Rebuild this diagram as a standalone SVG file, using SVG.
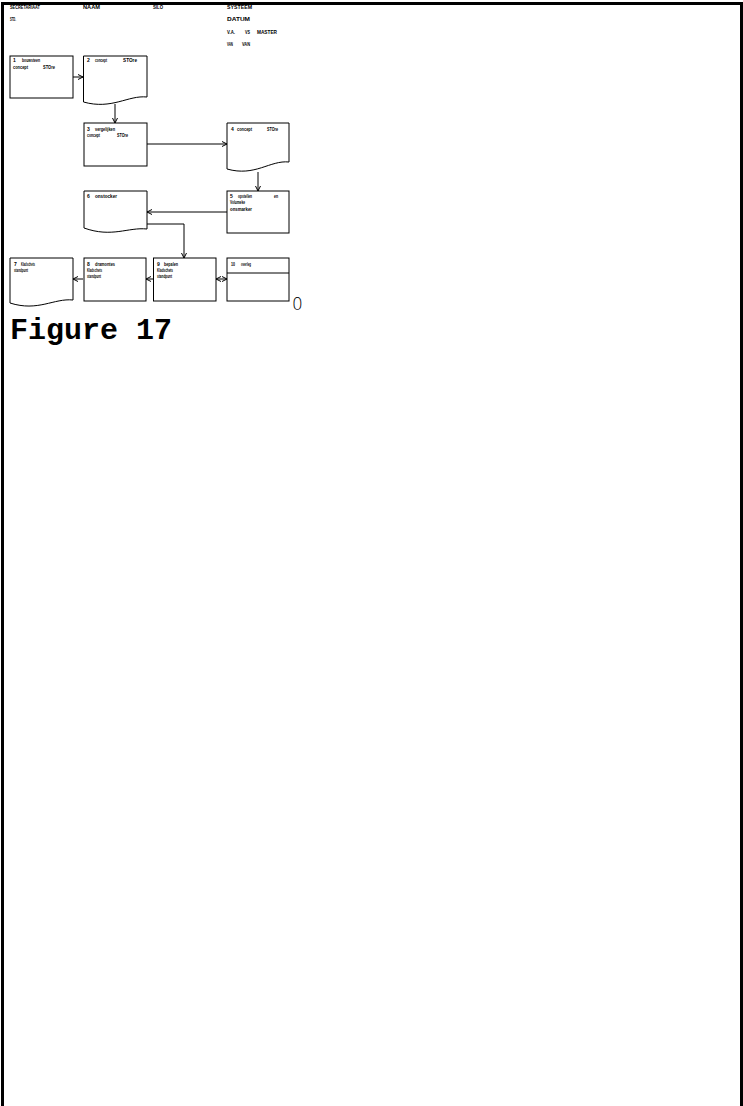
<svg xmlns="http://www.w3.org/2000/svg" width="743" height="1106" viewBox="0 0 743 1106">
<style>
.t{font-family:"Liberation Sans",Arial,sans-serif;font-weight:bold;font-size:5px;fill:#000}
.n{fill:#fff;stroke:#000;stroke-width:1}
.c{fill:none;stroke:#000;stroke-width:1}
.f{stroke:#000;stroke-width:3;fill:none}
</style>
<defs>
<marker id="ah" markerWidth="6" markerHeight="6" refX="5" refY="3" orient="auto" markerUnits="userSpaceOnUse">
<path d="M0,0.5 L5,3 L0,5.5" fill="none" stroke="#000" stroke-width="1"/>
</marker>
<marker id="as" markerWidth="6" markerHeight="6" refX="1" refY="3" orient="auto" markerUnits="userSpaceOnUse">
<path d="M6,0.5 L1,3 L6,5.5" fill="none" stroke="#000" stroke-width="1"/>
</marker>
</defs>
<rect width="743" height="1106" fill="#fff"/>
<g id="frame">
<line class="f" x1="2.5" y1="2" x2="2.5" y2="1106"/>
<line class="f" x1="1" y1="3.5" x2="743" y2="3.5"/>
<line class="f" x1="741.5" y1="2" x2="741.5" y2="1106"/>
</g>
<g id="header">
<text class="t" x="10" y="9" textLength="30" lengthAdjust="spacingAndGlyphs">SECRETARIAAT</text>
<text class="t" x="83" y="9" textLength="17" lengthAdjust="spacingAndGlyphs">NAAM</text>
<text class="t" x="153" y="9" textLength="10" lengthAdjust="spacingAndGlyphs">SILO</text>
<text class="t" x="227" y="9" textLength="25" lengthAdjust="spacingAndGlyphs">SYSTEEM</text>
<text class="t" x="10" y="21" textLength="6" lengthAdjust="spacingAndGlyphs">STD.</text>
<text class="t" x="227" y="21" textLength="23" lengthAdjust="spacingAndGlyphs">DATUM</text>
<text class="t" x="227" y="34" textLength="8" lengthAdjust="spacingAndGlyphs">V.A.</text>
<text class="t" x="245" y="34" textLength="5" lengthAdjust="spacingAndGlyphs">VS</text>
<text class="t" x="257" y="34" textLength="20" lengthAdjust="spacingAndGlyphs">MASTER</text>
<text class="t" x="227" y="46" textLength="6" lengthAdjust="spacingAndGlyphs">VAN</text>
<text class="t" x="242" y="46" textLength="8" lengthAdjust="spacingAndGlyphs">VAN</text>
</g>
<g id="connectors">
<line class="c" x1="73" y1="77" x2="83" y2="77" marker-end="url(#ah)"/>
<line class="c" x1="115" y1="104" x2="115" y2="123" marker-end="url(#ah)"/>
<line class="c" x1="147" y1="144" x2="227" y2="144" marker-end="url(#ah)"/>
<line class="c" x1="258" y1="172" x2="258" y2="191" marker-end="url(#ah)"/>
<line class="c" x1="227" y1="212" x2="147" y2="212" marker-end="url(#ah)"/>
<polyline class="c" points="147,224 184,224 184,258" marker-end="url(#ah)"/>
<line class="c" x1="83" y1="279" x2="73" y2="279" marker-end="url(#ah)"/>
<line class="c" x1="153" y1="279" x2="146" y2="279" marker-end="url(#ah)"/>
<line class="c" x1="216" y1="279" x2="227" y2="279" marker-start="url(#as)" marker-end="url(#ah)"/>
</g>
<g id="n1">
<rect class="n" x="10" y="56" width="63" height="42"/>
<text class="t" x="13" y="62">1</text>
<text class="t" x="22" y="62" textLength="18" lengthAdjust="spacingAndGlyphs">bouwsteen</text>
<text class="t" x="13" y="69" textLength="15" lengthAdjust="spacingAndGlyphs">concept</text>
<text class="t" x="43" y="69" textLength="12" lengthAdjust="spacingAndGlyphs">STOre</text>
</g>
<g id="n2">
<path class="n" d="M83.5,56 H147 V97 C128,95 112,110 83.5,102 Z"/>
<text class="t" x="87" y="62">2</text>
<text class="t" x="95" y="62" textLength="12" lengthAdjust="spacingAndGlyphs">concept</text>
<text class="t" x="123" y="62" textLength="14" lengthAdjust="spacingAndGlyphs">STOre</text>
</g>
<g id="n3">
<rect class="n" x="84" y="123" width="63" height="43"/>
<text class="t" x="87" y="131">3</text>
<text class="t" x="95" y="131" textLength="20" lengthAdjust="spacingAndGlyphs">vergelijken</text>
<text class="t" x="87" y="137" textLength="13" lengthAdjust="spacingAndGlyphs">concept</text>
<text class="t" x="117" y="137" textLength="11" lengthAdjust="spacingAndGlyphs">STOre</text>
</g>
<g id="n4">
<path class="n" d="M227,123 H289 V162 C270,160 255,177 227,169 Z"/>
<text class="t" x="231" y="131">4</text>
<text class="t" x="237" y="131" textLength="15" lengthAdjust="spacingAndGlyphs">concept</text>
<text class="t" x="267" y="131" textLength="11" lengthAdjust="spacingAndGlyphs">STOre</text>
</g>
<g id="n5">
<rect class="n" x="227" y="191" width="62" height="42"/>
<text class="t" x="230" y="198">5</text>
<text class="t" x="238" y="198" textLength="14" lengthAdjust="spacingAndGlyphs">opstellen</text>
<text class="t" x="274" y="198" textLength="4" lengthAdjust="spacingAndGlyphs">en</text>
<text class="t" x="230" y="204" textLength="15" lengthAdjust="spacingAndGlyphs">Volumeke</text>
<text class="t" x="230" y="211" textLength="22" lengthAdjust="spacingAndGlyphs">onsmarker</text>
</g>
<g id="n6">
<path class="n" d="M84,191 H147 V229 C128,227 112,238 84,228 Z"/>
<text class="t" x="87" y="198">6</text>
<text class="t" x="95" y="198" textLength="22" lengthAdjust="spacingAndGlyphs">onstocker</text>
</g>
<g id="n7">
<path class="n" d="M10,258 H73 V300 C54,298 38,312 10,303 Z"/>
<text class="t" x="14" y="266">7</text>
<text class="t" x="21" y="266" textLength="14" lengthAdjust="spacingAndGlyphs">Kladschets</text>
<text class="t" x="14" y="272" textLength="14" lengthAdjust="spacingAndGlyphs">standpunt</text>
</g>
<g id="n8">
<rect class="n" x="84" y="258" width="62" height="43"/>
<text class="t" x="87" y="266">8</text>
<text class="t" x="95" y="266" textLength="20" lengthAdjust="spacingAndGlyphs">dramontes</text>
<text class="t" x="87" y="272" textLength="15" lengthAdjust="spacingAndGlyphs">Kladschets</text>
<text class="t" x="87" y="278" textLength="14" lengthAdjust="spacingAndGlyphs">standpunt</text>
</g>
<g id="n9">
<rect class="n" x="153.5" y="258" width="62.5" height="43"/>
<text class="t" x="157" y="266">9</text>
<text class="t" x="164" y="266" textLength="14" lengthAdjust="spacingAndGlyphs">bepalen</text>
<text class="t" x="157" y="272" textLength="16" lengthAdjust="spacingAndGlyphs">Kladschets</text>
<text class="t" x="157" y="278" textLength="15" lengthAdjust="spacingAndGlyphs">standpunt</text>
</g>
<g id="n10">
<rect class="n" x="227" y="258" width="62" height="43"/>
<line class="c" x1="227" y1="273" x2="289" y2="273"/>
<text class="t" x="231" y="266" textLength="4" lengthAdjust="spacingAndGlyphs">10</text>
<text class="t" x="241" y="266" textLength="10" lengthAdjust="spacingAndGlyphs">overleg</text>
</g>
<text x="292" y="310" font-family="'DejaVu Sans',sans-serif" font-weight="200" font-size="17" fill="#000">0</text>
<text x="10" y="339" font-family="'Liberation Mono','Courier New',monospace" font-weight="bold" font-size="30" fill="#000">Figure 17</text>
</svg>
